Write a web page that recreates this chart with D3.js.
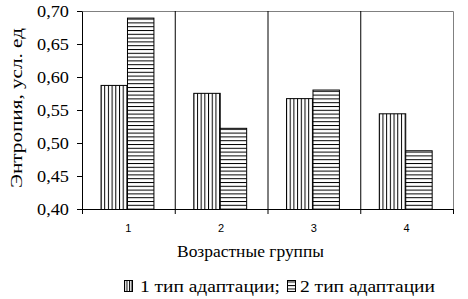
<!DOCTYPE html>
<meta charset="utf-8"/>
<title>Энтропия по возрастным группам</title>
<style>
    body { margin: 0; background: #fff; }
    .axis path, .axis line { stroke: #000; }
    .grid line { stroke: #000; }
</style>
<script src="https://cdn.jsdelivr.net/npm/d3@7"></script>
<svg id="chart" width="468" height="299"></svg>
<script>
    "use strict";

    const groups = ["1", "2", "3", "4"];
    const seriesNames = ["1 тип адаптации;", "2 тип адаптации"];
    const type1 = [0.588, 0.576, 0.568, 0.545];
    const type2 = [0.690, 0.523, 0.581, 0.489];
    const yTicks = [0.40, 0.45, 0.50, 0.55, 0.60, 0.65, 0.70];

    const SERIF = "'Liberation Serif', 'Times New Roman', 'DejaVu Serif', serif";

    const width = 468;
    const height = 299;
    const margin = {top: 11, right: 15, bottom: 90, left: 82};
    const innerW = width - margin.left - margin.right;
    const innerH = height - margin.top - margin.bottom;

    const svg = d3.select("#chart");

    // hatch patterns: vertical lines for type 1, horizontal for type 2
    const defs = svg.append("defs");
    function hatch(id, w, h, vertical)
    {
        const p = defs.append("pattern")
            .attr("id", id)
            .attr("patternUnits", "userSpaceOnUse")
            .attr("width", w).attr("height", h);
        p.append("rect").attr("width", w).attr("height", h).attr("fill", "#fff");
        p.append("line")
            .attr("x1", vertical ? 0.5 : 0).attr("x2", vertical ? 0.5 : w)
            .attr("y1", vertical ? 0 : 0.5).attr("y2", vertical ? h : 0.5)
            .attr("stroke", "#000").attr("stroke-width", 1);
    }
    hatch("hatchV", 3.7, 4, true);
    hatch("hatchH", 4, 3.8, false);
    hatch("legV", 2.5, 4, true);
    hatch("legH", 4, 3.5, false);
    const fills = ["url(#hatchV)", "url(#hatchH)"];
    const legFills = ["url(#legV)", "url(#legH)"];

    const g = svg.append("g").attr("transform", "translate(" + margin.left + "," + margin.top + ")");

    const x0 = d3.scaleBand().domain(groups).range([0, innerW]).padding(0);
    const x1 = d3.scaleBand().domain([0, 1])
        .range([x0.bandwidth() * 0.2, x0.bandwidth() * 0.77]).padding(0);
    const y = d3.scaleLinear().domain([0.40, 0.70]).range([innerH, 0]);

    // plot frame (top and right in grey)
    g.append("path")
        .attr("d", "M0,0.5H" + (innerW + 0.5) + "V" + innerH)
        .attr("fill", "none").attr("stroke", "#808080");

    // category separators
    g.append("g").attr("class", "grid")
        .selectAll("line")
        .data(groups.slice(1))
        .join("line")
        .attr("x1", d => x0(d) + 0.5).attr("x2", d => x0(d) + 0.5)
        .attr("y1", 0).attr("y2", innerH);

    // bars
    const data = groups.map((k, i) => ({group: k, values: [type1[i], type2[i]]}));
    g.append("g")
        .selectAll("g")
        .data(data)
        .join("g")
        .attr("transform", d => "translate(" + x0(d.group) + ",0)")
        .selectAll("rect")
        .data(d => d.values.map((v, s) => ({s: s, v: v})))
        .join("rect")
        .attr("x", d => x1(d.s) + 0.5)
        .attr("y", d => y(d.v) + 0.5)
        .attr("width", x1.bandwidth())
        .attr("height", d => innerH - y(d.v))
        .attr("fill", d => fills[d.s])
        .attr("stroke", "#000")
        .attr("stroke-width", 1);

    // y axis
    const fmt = d => d3.format(".2f")(d).replace(".", ",");
    const yAxis = g.append("g").attr("class", "axis")
        .attr("font-family", SERIF)
        .call(d3.axisLeft(y).tickValues(yTicks).tickFormat(fmt).tickSize(5).tickPadding(8).tickSizeOuter(0));
    yAxis.attr("font-family", SERIF);
    yAxis.selectAll("text")
        .style("font-family", SERIF)
        .style("font-size", "16px")
        .attr("textLength", 32)
        .attr("lengthAdjust", "spacingAndGlyphs");

    // x axis with ticks at category boundaries
    const xAxis = g.append("g").attr("class", "axis")
        .attr("transform", "translate(0," + innerH + ")")
        .call(d3.axisBottom(x0).tickSize(0).tickPadding(15).tickSizeOuter(0));
    xAxis.selectAll("text")
        .style("font-family", "'Liberation Sans', Arial, sans-serif")
        .style("font-size", "11px");
    xAxis.append("g")
        .selectAll("line")
        .data(groups.map(k => x0(k)).concat([innerW]))
        .join("line")
        .attr("x1", d => d + 0.5).attr("x2", d => d + 0.5)
        .attr("y1", 0).attr("y2", 5)
        .attr("stroke", "#000");

    // axis titles
    svg.append("text")
        .attr("x", 177).attr("y", 257)
        .style("font-family", SERIF)
        .style("font-size", "16px")
        .attr("textLength", 147)
        .attr("lengthAdjust", "spacingAndGlyphs")
        .text("Возрастные группы");

    svg.append("text")
        .attr("transform", "translate(22,108) rotate(-90)")
        .attr("text-anchor", "middle")
        .style("font-family", SERIF)
        .style("font-size", "17px")
        .attr("textLength", 160)
        .attr("lengthAdjust", "spacingAndGlyphs")
        .text("Энтропия, усл. ед");

    // legend: boxes and texts placed left to right
    const legendX = [124, 287];
    const legendLen = [140, 135];
    const items = svg.append("g")
        .selectAll("g")
        .data(seriesNames)
        .join("g")
        .attr("transform", (d, i) => "translate(" + legendX[i] + ",292)");
    items.append("rect")
        .attr("x", 0.5).attr("y", -11.5)
        .attr("width", 8).attr("height", 11)
        .attr("fill", (d, i) => legFills[i])
        .attr("stroke", "#000");
    items.append("text")
        .attr("x", (d, i) => i === 0 ? 16 : 13)
        .style("font-family", SERIF)
        .style("font-size", "16px")
        .attr("textLength", (d, i) => legendLen[i])
        .attr("lengthAdjust", "spacingAndGlyphs")
        .text(d => d);
</script>
